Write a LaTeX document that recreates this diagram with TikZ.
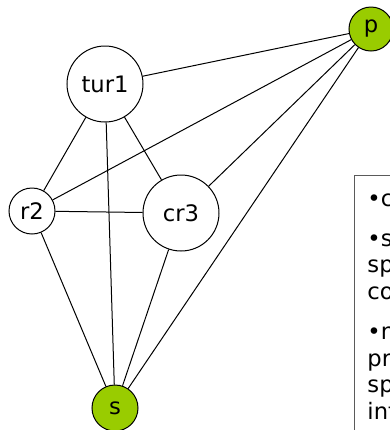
\documentclass[tikz,border=0pt]{standalone}
\usepackage{fontspec}
\setmainfont{DejaVu Sans}

\tikzset{every picture/.style={line width=0.75pt}}
\tikzset{
  vertex/.style={draw, circle, inner sep=0pt, font=\fontsize{17}{20}\selectfont},
  leaf/.style={vertex, fill={rgb, 255:red, 153; green, 204; blue, 0}},
  link/.style={draw, line width=0.75pt}
}

\begin{document}
\begin{tikzpicture}[x=0.75pt,y=0.75pt,yscale=-1,xscale=1]
\useasboundingbox (0,0) rectangle (390,430);
\clip (0,0) rectangle (390,430);

%Shape: Circle
\node [vertex, minimum size=57pt] (tur1) at (105,84) {tur1};
%Shape: Circle
\node [vertex, minimum size=34.5pt] (r2) at (32,211) {r2};
%Shape: Circle
\node [vertex, minimum size=57pt] (cr3) at (181,213) {cr3};
%Shape: Circle
\node [leaf, minimum size=33pt] (p) at (371,29) {p};
%Shape: Circle
\node [leaf, minimum size=34.5pt] (s) at (115,408) {s};

%Straight Lines
\draw [link] (tur1) -- (p) ;
\draw [link] (tur1) -- (r2) ;
\draw [link] (tur1) -- (cr3) ;
\draw [link] (tur1) -- (s) ;
\draw [link] (r2) -- (p) ;
\draw [link] (r2) -- (cr3) ;
\draw [link] (r2) -- (s) ;
\draw [link] (cr3) -- (p) ;
\draw [link] (cr3) -- (s) ;
\draw [link] (p) -- (s) ;

%Shape: Rectangle
\draw [color={rgb, 255:red, 90; green, 90; blue, 90}] (355,175) -- (400,175) -- (400,440) -- (355,440) -- cycle ;

% Text Node
\node [anchor=north west, inner sep=0pt, align=left, font=\fontsize{17}{20}\selectfont] (notes) at (367,193)
  {•c\\[10pt] •s\\ sp\\ co\\[10pt] •n\\ pr\\ sp\\ int};
\end{tikzpicture}
\end{document}
